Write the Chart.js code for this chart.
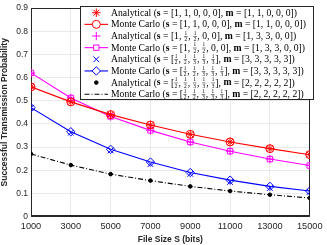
<!DOCTYPE html>
<html><head><meta charset="utf-8">
<script src="https://cdn.jsdelivr.net/npm/chart.js@4.4.0/dist/chart.umd.min.js"></script>
<style>html,body{margin:0;padding:0;background:#fff}</style></head>
<body><canvas id="c" width="327" height="245"></canvas>
<script>
const fileSizes=[1000,3000,5000,7000,9000,11000,13000,15000];
const xTickValues=[1000,3000,5000,7000,9000,11000,13000,15000];
const yTickValues=[0,0.1,0.2,0.3,0.4,0.5,0.6,0.7,0.8,0.9];
const redAnalytical=[0.560,0.495,0.440,0.395,0.355,0.322,0.293,0.267];
const redMonteCarlo=[0.560,0.495,0.440,0.395,0.355,0.322,0.293,0.267];
const magentaAnalytical=[0.620,0.512,0.432,0.372,0.322,0.282,0.248,0.220];
const magentaMonteCarlo=[0.620,0.512,0.432,0.372,0.322,0.282,0.248,0.220];
const blueAnalytical=[0.470,0.362,0.285,0.226,0.184,0.149,0.123,0.106];
const blueMonteCarlo=[0.470,0.366,0.290,0.235,0.190,0.157,0.130,0.110];
const blackAnalytical=[0.270,0.222,0.183,0.155,0.130,0.110,0.094,0.080];
const blackMonteCarlo=[0.270,0.222,0.183,0.155,0.130,0.110,0.094,0.080];
const legendLabels=[
 "Analytical (**s** = [1, 1, 0, 0, 0], **m** = [1, 1, 0, 0, 0])",
 "Monte Carlo (**s** = [1, 1, 0, 0, 0], **m** = [1, 1, 0, 0, 0])",
 "Analytical (**s** = [1, {1/2}, {1/2}, 0, 0], **m** = [1, 3, 3, 0, 0])",
 "Monte Carlo (**s** = [1, {1/2}, {1/2}, 0, 0], **m** = [1, 3, 3, 0, 0])",
 "Analytical (**s** = [{1/2}, {1/2}, {1/3}, {1/3}, {1/3}], **m** = [3, 3, 3, 3, 3])",
 "Monte Carlo (**s** = [{1/2}, {1/2}, {1/3}, {1/3}, {1/3}], **m** = [3, 3, 3, 3, 3])",
 "Analytical (**s** = [{1/2}, {1/2}, {1/3}, {1/3}, {1/3}], **m** = [2, 2, 2, 2, 2])",
 "Monte Carlo (**s** = [{1/2}, {1/2}, {1/3}, {1/3}, {1/3}], **m** = [2, 2, 2, 2, 2])"
];
const xTitle="File Size S (bits)";
const yTitle="Successful Transmission Probability";

const pts=a=>a.map((v,i)=>({x:fileSizes[i],y:v}));
const RED='#ff0000',MAG='#ff00ff',BLU='#0000ff',BLK='#000000';
function ana(data,color,style,r){return {data:pts(data),showLine:false,borderColor:color,backgroundColor:color,pointStyle:style,pointRadius:r,pointBorderWidth:1,pointHoverRadius:r};}
function mc(data,color,style,r,dash){return {data:pts(data),showLine:true,borderColor:color,backgroundColor:'rgba(0,0,0,0)',borderWidth:1.1,borderDash:dash||[],pointStyle:style,pointRadius:r,pointBorderWidth:1,pointHoverRadius:r,tension:0};}
const datasets=[
 ana(redAnalytical,RED,'star',4.2),
 mc(redMonteCarlo,RED,'circle',4),
 ana(magentaAnalytical,MAG,'cross',4.2),
 mc(magentaMonteCarlo,MAG,'rect',3.8),
 ana(blueAnalytical,BLU,'crossRot',4),
 mc(blueMonteCarlo,BLU,'rectRot',4.2),
 ana(blackAnalytical,BLK,'circle',1.8),
 mc(blackMonteCarlo,BLK,false,0,[5,2,1,2])
];
datasets[6].backgroundColor=BLK;

const FAM='"Liberation Serif", "DejaVu Serif", serif';
function richParts(str){return str.split(/(\*\*[^*]+\*\*|\{\d\/\d\})/).filter(s=>s.length);}
function drawRich(ctx,x,y,str,size,measureOnly){
  const x0=x;
  ctx.textBaseline='middle';ctx.textAlign='left';ctx.fillStyle='#000';
  for(const p of richParts(str)){
    if(p.startsWith('**')){
      const t=p.slice(2,-2);ctx.font='bold '+size+'px '+FAM;if(!measureOnly)ctx.fillText(t,x,y);x+=ctx.measureText(t).width;
    } else if(p.startsWith('{')){
      const [n,d]=p.slice(1,-1).split('/');const fs=size*0.55;
      ctx.font=fs+'px '+FAM;const w=Math.max(ctx.measureText(n).width,ctx.measureText(d).width)+1;
      if(!measureOnly){ctx.textAlign='center';ctx.fillText(n,x+0.3+w/2,y-size*0.3);ctx.fillText(d,x+0.3+w/2,y+size*0.33);ctx.textAlign='left';
      ctx.fillRect(x+0.3,y-0.2,w,0.5);}
      x+=w+0.8;
    } else {
      ctx.font=size+'px '+FAM;if(!measureOnly)ctx.fillText(p,x,y);x+=ctx.measureText(p).width;
    }
  }
  return x-x0;
}

const framePlugin={id:'frame',
 beforeDatasetsDraw(chart){const a=chart.chartArea,ctx=chart.ctx;ctx.save();ctx.strokeStyle='#262626';ctx.lineWidth=1;ctx.strokeRect(Math.round(a.left)+0.5,Math.round(a.top)+0.5,Math.round(a.right-a.left)-1,Math.round(a.bottom-a.top)-1);ctx.restore();},
 afterDraw(chart){
  const ctx=chart.ctx;ctx.save();
  const bx=80.5,by=6.5,bw=233,bh=93;
  ctx.fillStyle='#fff';ctx.fillRect(bx,by,bw,bh);ctx.strokeStyle='#262626';ctx.lineWidth=1;ctx.strokeRect(bx,by,bw,bh);
  const rowH=11.65,y0=12.7,fs=10;
  const natural=drawRich(ctx,0,0,legendLabels[0],fs,true);
  const sx=186/natural;
  datasets.forEach((ds,i)=>{
    const y=y0+i*rowH;
    if(ds.showLine){ctx.save();ctx.strokeStyle=ds.borderColor;ctx.lineWidth=ds.borderWidth;ctx.setLineDash(ds.borderDash);ctx.beginPath();ctx.moveTo(84.5,y);ctx.lineTo(108,y);ctx.stroke();ctx.restore();}
    if(ds.pointStyle&&ds.pointRadius>0){ctx.save();ctx.strokeStyle=ds.borderColor;ctx.fillStyle=ds.showLine?'#fff':ds.backgroundColor;ctx.lineWidth=1;
      Chart.helpers.drawPoint(ctx,{pointStyle:ds.pointStyle,radius:ds.pointRadius,rotation:0,borderWidth:1},96.3,y);ctx.restore();}
    ctx.save();ctx.translate(111,y);ctx.scale(sx,1);drawRich(ctx,0,0.3,legendLabels[i],fs,false);ctx.restore();
  });
  ctx.restore();
 }};

const SANS='"Liberation Sans", Arial, sans-serif';
new Chart(document.getElementById('c'),{
 type:'scatter',
 data:{datasets},
 options:{responsive:false,devicePixelRatio:1,animation:false,
  layout:{padding:{top:6,right:13,left:0,bottom:0}},
  plugins:{legend:{display:false},tooltip:{enabled:false}},
  elements:{point:{borderWidth:1}},
  scales:{
   x:{type:'linear',min:1000,max:15000,
     afterBuildTicks:s=>{s.ticks=xTickValues.map(v=>({value:v}));},
     afterFit:s=>{s.height=28.5;},
     grid:{color:'#e3e3e3',drawTicks:false,lineWidth:0.8},border:{color:'#262626'},
     ticks:{font:{family:SANS,size:9.2},color:'#262626',padding:4.5,maxRotation:0,autoSkip:false,callback:v=>String(v)},
     title:{display:true,text:xTitle,font:{family:SANS,size:8.5,weight:'bold'},color:'#262626',padding:{top:1,bottom:0}}},
   y:{min:0,max:0.9,
     afterBuildTicks:s=>{s.ticks=yTickValues.map(v=>({value:v}));},
     afterFit:s=>{s.width=31;},
     grid:{color:'#e3e3e3',drawTicks:false,lineWidth:0.8},border:{color:'#262626'},
     ticks:{font:{family:SANS,size:8.5},color:'#262626',padding:3,callback:v=>String(Math.round(v*10)/10)},
     title:{display:true,text:yTitle,font:{family:SANS,size:8.5,weight:'bold'},color:'#262626',padding:{top:0,bottom:1}}}
  }},
 plugins:[framePlugin]
});
</script></body></html>
